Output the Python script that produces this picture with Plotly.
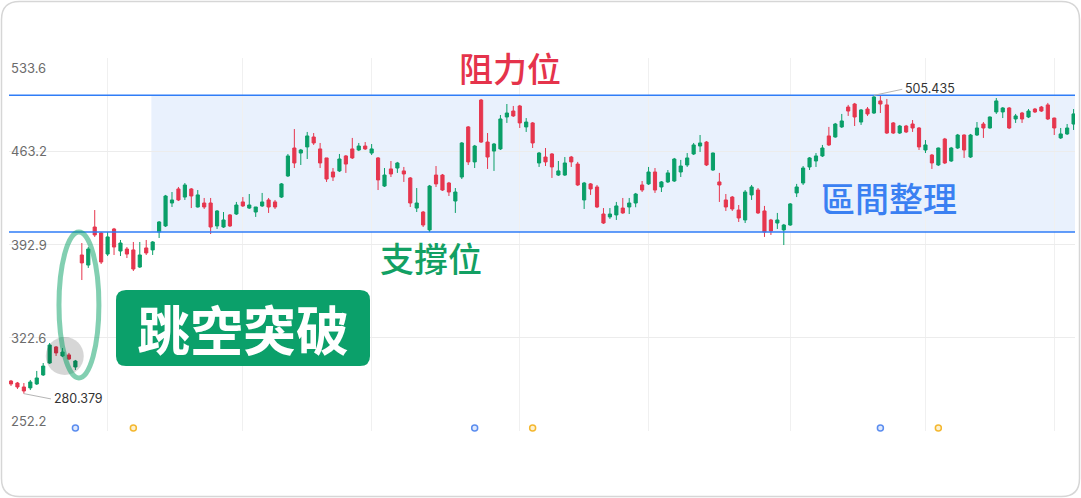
import plotly.graph_objects as go

# ---------------- data ----------------
open_ = [289.9, 288.4, 285.4, 284.7, 287.7, 294.5, 303.5, 315.6, 308.8, 309.6,
         300.5, 385.0, 377.4, 406.1, 401.6, 385.7, 404.6, 388.0, 389.5, 388.8,
         375.9, 390.3, 388.8, 402.3, 406.9, 424.2, 434.8, 428.7, 434.8, 421.2,
         424.2, 424.2, 406.9, 406.1, 415.2, 415.9, 425.0, 420.4, 417.4, 422.0,
         426.5, 425.0, 428.7, 444.6, 465.7, 461.9, 466.5, 474.0, 465.0, 458.2,
         447.6, 448.4, 459.7, 465.0, 464.2, 467.2, 461.9, 458.2, 437.0, 449.9,
         450.6, 448.4, 443.1, 420.4, 417.4, 403.9, 445.3, 445.3, 439.3, 425.7,
         443.8, 481.6, 455.2, 501.9, 470.2, 463.4, 465.0, 489.1, 493.6, 497.4,
         481.6, 484.6, 454.4, 458.9, 461.2, 445.3, 445.3, 458.9, 453.6, 426.5,
         438.6, 436.3, 415.9, 413.7, 415.2, 420.4, 421.2, 424.2, 437.8, 438.6,
         447.6, 436.3, 440.1, 440.8, 447.6, 452.9, 461.2, 467.2, 470.2, 449.1,
         440.1, 426.5, 428.7, 418.9, 411.4, 430.3, 434.0, 418.2, 411.4, 409.1,
         403.9, 407.6, 431.8, 439.3, 451.4, 455.9, 459.7, 474.8, 474.0, 481.6,
         496.6, 498.9, 485.3, 495.1, 492.1, 501.2, 498.2, 484.6, 477.0, 482.3,
         483.8, 480.8, 464.2, 460.4, 452.9, 472.5, 455.9, 465.7, 475.5, 458.9,
         475.5, 483.8, 480.8, 492.9, 492.9, 495.9, 487.6, 492.1, 489.1, 495.1,
         496.6, 498.2, 488.3, 473.3, 476.3, 483.8]
high = [290.7, 289.2, 288.4, 290.7, 297.5, 303.5, 318.6, 316.3, 314.8, 311.1,
        305.8, 394.0, 391.0, 418.9, 402.3, 402.3, 405.4, 396.3, 391.0, 394.8,
        394.8, 396.3, 395.5, 410.6, 430.3, 432.5, 436.3, 439.3, 435.5, 434.0,
        428.0, 428.0, 418.9, 417.4, 415.9, 425.0, 428.7, 431.0, 421.2, 431.8,
        428.0, 426.5, 439.3, 461.2, 480.0, 465.0, 477.8, 477.0, 469.5, 458.2,
        450.6, 461.2, 460.4, 473.3, 469.5, 470.2, 468.7, 458.9, 450.6, 455.9,
        455.2, 451.4, 443.8, 435.5, 418.2, 437.8, 452.1, 446.1, 440.1, 435.5,
        470.2, 482.3, 468.0, 502.7, 477.0, 469.5, 490.6, 498.9, 497.4, 498.2,
        488.3, 485.3, 462.7, 465.7, 461.9, 455.9, 458.9, 459.7, 455.2, 440.1,
        439.3, 437.8, 420.4, 420.4, 425.0, 428.0, 428.0, 431.8, 440.8, 451.4,
        450.6, 440.8, 449.1, 458.2, 456.7, 461.9, 469.5, 475.5, 470.9, 462.3,
        446.9, 431.0, 429.5, 422.7, 434.0, 437.8, 435.5, 422.0, 412.2, 416.7,
        408.4, 424.2, 438.6, 452.1, 458.9, 461.9, 468.0, 481.6, 484.6, 491.4,
        498.2, 499.7, 495.1, 496.6, 505.435, 504.9, 502.7, 485.3, 483.1, 483.1,
        486.8, 481.5, 471.7, 461.2, 466.0, 473.3, 466.5, 476.3, 476.0, 476.3,
        485.3, 485.3, 489.5, 503.4, 496.6, 496.6, 491.4, 492.9, 495.1, 495.9,
        497.4, 499.7, 488.6, 480.8, 483.8, 495.1]
low = [286.2, 283.9, 280.379, 283.1, 286.9, 293.7, 302.8, 308.8, 308.0, 305.8,
       298.2, 366.1, 375.2, 398.6, 378.2, 384.2, 385.0, 384.2, 382.7, 372.9,
       375.2, 385.0, 385.0, 397.8, 406.1, 421.2, 425.7, 426.5, 420.4, 420.8,
       419.7, 400.8, 404.6, 405.4, 406.1, 415.2, 421.2, 419.7, 413.7, 421.2,
       416.7, 419.7, 428.0, 443.8, 450.6, 452.9, 457.4, 468.0, 450.6, 440.1,
       440.8, 447.6, 446.9, 457.4, 463.4, 464.2, 460.4, 434.0, 436.3, 443.8,
       446.9, 440.1, 421.2, 417.4, 406.1, 402.3, 436.3, 433.3, 429.5, 416.7,
       442.3, 452.9, 450.6, 469.5, 449.9, 448.4, 464.2, 484.6, 489.1, 480.8,
       477.8, 465.7, 451.4, 452.1, 443.1, 444.6, 444.6, 451.4, 437.0, 419.7,
       430.3, 420.4, 408.4, 412.2, 411.4, 416.0, 415.9, 421.0, 432.5, 437.8,
       431.8, 432.5, 439.3, 440.1, 443.8, 451.4, 460.4, 462.7, 452.1, 448.4,
       425.0, 418.2, 418.2, 409.9, 409.1, 426.5, 415.9, 398.6, 400.1, 404.6,
       392.5, 407.0, 428.7, 437.8, 449.1, 451.4, 458.9, 467.2, 473.5, 480.8,
       489.9, 482.3, 483.1, 489.9, 491.4, 492.1, 476.3, 476.3, 476.3, 477.0,
       477.8, 464.2, 461.9, 449.9, 452.1, 453.6, 455.2, 465.0, 458.2, 458.2,
       474.8, 473.3, 480.3, 491.4, 488.3, 480.0, 484.6, 484.6, 488.3, 492.1,
       492.9, 486.8, 475.5, 472.5, 475.5, 479.3]
close = [287.7, 285.4, 282.4, 289.2, 292.2, 301.2, 317.1, 311.1, 311.8, 306.5,
         305.0, 379.0, 389.5, 400.1, 379.7, 398.6, 391.0, 394.0, 385.7, 374.4,
         385.0, 386.5, 394.8, 409.9, 429.5, 426.5, 426.5, 437.8, 429.5, 430.3,
         421.2, 406.1, 418.2, 411.4, 406.9, 422.7, 422.0, 422.7, 421.2, 425.0,
         421.2, 421.2, 438.6, 459.7, 454.4, 464.2, 474.8, 469.5, 454.4, 442.3,
         443.8, 457.4, 453.6, 458.2, 467.2, 465.0, 465.0, 441.6, 445.3, 446.1,
         454.4, 446.1, 424.2, 424.2, 407.6, 437.0, 438.6, 434.0, 432.5, 432.5,
         469.5, 455.2, 467.2, 470.2, 458.9, 468.7, 487.6, 492.1, 489.9, 484.6,
         485.3, 469.5, 461.9, 455.2, 451.4, 448.4, 454.4, 455.2, 437.8, 439.3,
         434.8, 421.2, 409.1, 415.9, 422.0, 416.7, 424.2, 431.0, 434.0, 447.6,
         434.0, 440.1, 446.9, 457.4, 452.1, 458.2, 468.0, 469.5, 452.9, 461.9,
         437.8, 421.2, 419.7, 412.9, 432.5, 436.3, 416.7, 402.3, 403.1, 411.4,
         407.6, 423.5, 436.3, 450.6, 458.2, 459.7, 465.7, 468.0, 483.8, 486.1,
         493.6, 489.1, 494.4, 491.4, 504.2, 498.9, 477.0, 477.0, 482.3, 477.8,
         480.8, 466.5, 468.0, 454.4, 465.7, 454.4, 465.7, 475.5, 464.2, 475.5,
         480.8, 480.8, 489.1, 501.2, 495.9, 480.8, 489.9, 487.6, 493.6, 492.9,
         493.6, 487.6, 480.8, 476.3, 480.8, 491.4]
bars = list(range(len(open_)))

y_ticks = [252.2, 322.6, 392.9, 463.2, 533.6]
y_tick_labels = ["252.2", "322.6", "392.9", "463.2", "533.6"]
month_breaks = [15, 36, 56, 79, 99, 121, 142, 162]

resistance = 505.435
support = 402.3
range_start = 21.8
low_point = (2, 280.379)
high_point = (134, 505.435)

event_blue = [10, 72, 135]
event_yellow = [19, 81, 144]
event_level = 254.5

GREEN = "#0a9f68"
RED = "#e6364e"
BLUE = "#2f7df7"

# ---------------- figure ----------------
W, H = 1081, 498
ML, MR, MT, MB = 9, 6, 58, 67
PW, PH = W - ML - MR, H - MT - MB


def px(xp):
    return (xp - ML) / PW


def py(yp):
    return (H - MB - yp) / PH


def rounded_rect(x0, y0, x1, y1, r):
    return (f"M {px(x0 + r)} {py(y0)} L {px(x1 - r)} {py(y0)} "
            f"Q {px(x1)} {py(y0)} {px(x1)} {py(y0 + r)} "
            f"L {px(x1)} {py(y1 - r)} Q {px(x1)} {py(y1)} {px(x1 - r)} {py(y1)} "
            f"L {px(x0 + r)} {py(y1)} Q {px(x0)} {py(y1)} {px(x0)} {py(y1 - r)} "
            f"L {px(x0)} {py(y0 + r)} Q {px(x0)} {py(y0)} {px(x0 + r)} {py(y0)} Z")


fig = go.Figure()

fig.add_trace(go.Candlestick(
    x=bars, open=open_, high=high, low=low, close=close,
    increasing=dict(line=dict(color=GREEN, width=1), fillcolor=GREEN),
    decreasing=dict(line=dict(color=RED, width=1), fillcolor=RED),
    whiskerwidth=0, showlegend=False, hoverinfo="skip",
))

fig.add_trace(go.Scatter(
    x=event_blue, y=[event_level] * len(event_blue), mode="markers",
    marker=dict(size=6, color="#dfe9fd", line=dict(color="#5b8def", width=1.5)),
    showlegend=False, hoverinfo="skip", cliponaxis=False,
))
fig.add_trace(go.Scatter(
    x=event_yellow, y=[event_level] * len(event_yellow), mode="markers",
    marker=dict(size=6, color="#fdf1cf", line=dict(color="#f4b72f", width=1.5)),
    showlegend=False, hoverinfo="skip", cliponaxis=False,
))

shapes = [
    # consolidation zone
    dict(type="rect", xref="x", yref="y", x0=range_start, x1=bars[-1] + 1.5,
         y0=support, y1=resistance, fillcolor="#e9f1fd", line=dict(width=0),
         layer="below"),
    # resistance / support
    dict(type="line", xref="paper", yref="y", x0=0, x1=1, y0=resistance,
         y1=resistance, line=dict(color=BLUE, width=1.5)),
    dict(type="line", xref="paper", yref="y", x0=0, x1=1, y0=support,
         y1=support, line=dict(color=BLUE, width=1.5)),
    # gray highlight circle
    dict(type="circle", xref="x", yref="y", x0=5.4, x1=11.3, y0=294.5, y1=323.1,
         fillcolor="rgba(0,0,0,0.16)", line=dict(width=0)),
    # gap ellipse
    dict(type="circle", xref="x", yref="y", x0=7.45, x1=13.65, y0=292.2, y1=402.3,
         fillcolor="rgba(0,0,0,0)", line=dict(color="rgba(16,163,105,0.52)", width=5)),
    # leader lines
    dict(type="line", xref="x", yref="y", x0=low_point[0], y0=low_point[1],
         x1=6.2, y1=276.4, line=dict(color="#b5b5b5", width=1)),
    dict(type="line", xref="x", yref="y", x0=high_point[0], y0=high_point[1],
         x1=138.4, y1=510.0, line=dict(color="#b5b5b5", width=1)),
    # label box
    dict(type="path", xref="paper", yref="paper", path=rounded_rect(116, 290, 370, 366, 10),
         fillcolor="#0ba06a", line=dict(width=0)),
    # card frame
    dict(type="path", xref="paper", yref="paper", path=rounded_rect(1.5, 1.5, 1079.5, 496.5, 18),
         fillcolor="rgba(0,0,0,0)", line=dict(color="#d6d6d6", width=1.5)),
]

annotations = []
for v, t in zip(y_ticks, y_tick_labels):
    anchor = "middle"
    if v == y_ticks[-1]:
        anchor = "top"
    elif v == y_ticks[0]:
        anchor = "bottom"
    annotations.append(dict(xref="paper", yref="y", x=0, y=v, xanchor="left",
                            yanchor=anchor, text=t, showarrow=False, xshift=0,
                            font=dict(family="Inter", size=13, color="#6b6b6b")))

annotations += [
    dict(xref="x", yref="y", x=6.3, y=276.6, text="280.379", xanchor="left",
         yanchor="middle", showarrow=False,
         font=dict(family="Inter", size=12.5, color="#333333")),
    dict(xref="x", yref="y", x=138.5, y=510.3, text="505.435", xanchor="left",
         yanchor="middle", showarrow=False,
         font=dict(family="Inter", size=12.5, color="#333333")),
    dict(xref="x", yref="y", x=77.5, y=526.1, text="阻力位", showarrow=False,
         xanchor="center", yanchor="middle",
         font=dict(family="Noto Sans CJK TC", size=34, color="#e5334b", weight=500)),
    dict(xref="x", yref="y", x=65.2, y=383.0, text="支撐位", showarrow=False,
         xanchor="center", yanchor="middle",
         font=dict(family="Noto Sans CJK TC", size=34, color="#12a063", weight=500)),
    dict(xref="x", yref="y", x=136.3, y=428.0, text="區間整理", showarrow=False,
         xanchor="center", yanchor="middle",
         font=dict(family="Noto Sans CJK TC", size=34, color="#3a80f2", weight=500)),
    dict(xref="paper", yref="paper", x=px(243), y=py(328), text="<b>跳空突破</b>",
         showarrow=False, xanchor="center", yanchor="middle",
         font=dict(family="Noto Sans CJK TC", size=53, color="#ffffff")),
]

fig.update_layout(
    width=W, height=H,
    margin=dict(l=ML, r=MR, t=MT, b=MB),
    paper_bgcolor="#ffffff", plot_bgcolor="#ffffff",
    boxgap=0.3,
    shapes=shapes, annotations=annotations,
    xaxis=dict(range=[-0.31, 165.22], rangeslider=dict(visible=False),
               tickvals=month_breaks, showticklabels=False, ticks="",
               showgrid=True, gridcolor="#f0f0f0", gridwidth=1, zeroline=False,
               showline=False, fixedrange=True),
    yaxis=dict(range=[y_ticks[0], y_ticks[-1]], tickvals=y_ticks,
               showticklabels=False, ticks="", showgrid=True,
               gridcolor="#ececec", gridwidth=1, zeroline=False,
               showline=False, fixedrange=True),
)

fig.write_html("out.html", config={"displayModeBar": False},
               post_script="document.body.style.margin='0';document.body.style.overflow='hidden';")
